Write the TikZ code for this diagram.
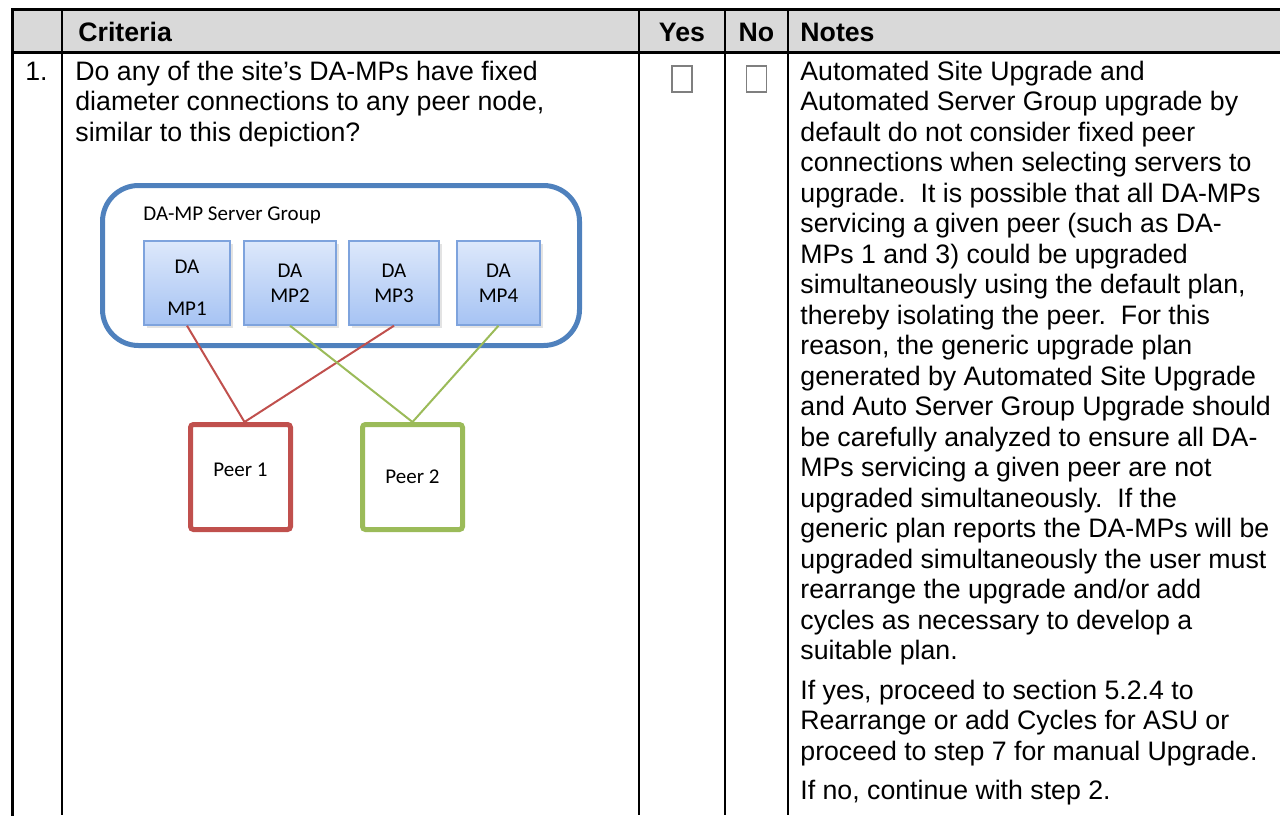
\documentclass[tikz,border=0pt]{standalone}
\usepackage{fontspec}
\setmainfont{Liberation Sans}
\newfontfamily\calfont{Carlito}
\usetikzlibrary{shadows}
\definecolor{hdr}{HTML}{D9D9D9}
\definecolor{grpblue}{HTML}{4F81BD}
\definecolor{peerred}{HTML}{C0504D}
\definecolor{peergreen}{HTML}{9BBB59}
\definecolor{mptop}{HTML}{DDE8FB}
\definecolor{mpbot}{HTML}{A6C3F3}
\definecolor{mpedge}{HTML}{7EA3DD}
\definecolor{boxgray}{HTML}{7F7F7F}
\begin{document}
\begin{tikzpicture}[x=0.5pt,y=-0.5pt,
  txt/.style={anchor=base west, inner sep=0pt, font=\fontsize{13.35}{15.35}\selectfont},
  hdrtxt/.style={anchor=base, inner sep=0pt, font=\fontsize{13.35}{15.35}\selectfont\bfseries},
  outerline/.style={line width=1.5pt, line cap=rect},
  innerline/.style={line width=1.1pt},
  chk/.style={draw=boxgray, line width=0.6pt, minimum width=10pt, minimum height=13pt, inner sep=0pt},
  grpbox/.style={draw=grpblue, line width=2.5pt, rounded corners=18pt, minimum width=238.5pt, minimum height=80pt, inner sep=0pt},
  grplabel/.style={anchor=base west, inner sep=0pt, font=\calfont\fontsize{10.5}{12.5}\selectfont},
  mpbox/.style={draw=mpedge, line width=0.7pt, top color=mptop, bottom color=mpbot, minimum height=42pt, inner sep=0pt, align=center, font=\calfont\fontsize{10.5}{12.5}\selectfont, drop shadow={opacity=0.22, shadow xshift=1.5pt, shadow yshift=-1.5pt}},
  peerbox/.style={draw, line width=2.5pt, rounded corners=1.5pt, fill=white, minimum width=50pt, minimum height=52.5pt, inner sep=0pt, font=\calfont\fontsize{10.5}{12.5}\selectfont},
  link/.style={line width=1pt}
]
\useasboundingbox (0,0) rectangle (1280,815);
% table
\fill[hdr] (12,9) rectangle (1280,52);
\draw[outerline] (12,9) -- (1280,9);
\draw[outerline] (12,52) -- (1280,52);
\draw[outerline] (12,9) -- (12,815);
\draw[innerline] (62,9) -- (62,815);
\draw[innerline] (639,9) -- (639,815);
\draw[innerline] (725,9) -- (725,815);
\draw[innerline] (788,9) -- (788,815);
% header
\node[hdrtxt, anchor=base west] (hcrit) at (78,41) {Criteria};
\node[hdrtxt] (hyes) at (682,41) {Yes};
\node[hdrtxt] (hno) at (756.5,41) {No};
\node[hdrtxt, anchor=base west] (hnotes) at (800,41) {Notes};
% row 1
\node[txt] (num) at (25,80) {1.};
\node[txt] (c1) at (75,80) {Do any of the site’s DA-MPs have fixed};
\node[txt] (c2) at (75,110.5) {diameter connections to any peer node,};
\node[txt] (c3) at (75,141) {similar to this depiction?};
\node[chk] (cbyes) at (682,79) {};
\node[chk] (cbno) at (756.5,79) {};
% notes
\foreach \t [count=\i] in {
  {Automated Site Upgrade and},
  {Automated Server Group upgrade by},
  {default do not consider fixed peer},
  {connections when selecting servers to},
  {upgrade.\ \ It is possible that all DA-MPs},
  {servicing a given peer (such as DA-},
  {MPs 1 and 3) could be upgraded},
  {simultaneously using the default plan,},
  {thereby isolating the peer.\ \ For this},
  {reason, the generic upgrade plan},
  {generated by Automated Site Upgrade},
  {and Auto Server Group Upgrade should},
  {be carefully analyzed to ensure all DA-},
  {MPs servicing a given peer are not},
  {upgraded simultaneously.\ \ If the},
  {generic plan reports the DA-MPs will be},
  {upgraded simultaneously the user must},
  {rearrange the upgrade and/or add},
  {cycles as necessary to develop a},
  {suitable plan.}}
  \node[txt] (note\i) at (800,{80+(\i-1)*30.5}) {\t};
\node[txt] (yes1) at (800,699) {If yes, proceed to section 5.2.4 to};
\node[txt] (yes2) at (800,729.5) {Rearrange or add Cycles for ASU or};
\node[txt] (yes3) at (800,760) {proceed to step 7 for manual Upgrade.};
\node[txt] (no1) at (800,799.5) {If no, continue with step 2.};
% diagram
\node[grpbox] (grp) at (341,265.5) {};
\node[grplabel] (grplab) at (143,220) {DA-MP Server Group};
\node[mpbox, minimum width=43pt] (mp1) at (187,283) {\raisebox{-3pt}[\height][\depth]{\begin{tabular}{@{}c@{}}DA\\[8.5pt]MP1\end{tabular}}};
\node[mpbox, minimum width=46pt] (mp2) at (290,283) {DA\\MP2};
\node[mpbox, minimum width=45pt] (mp3) at (394,283) {DA\\MP3};
\node[mpbox, minimum width=41.5pt] (mp4) at (498.5,283) {DA\\MP4};
\node[peerbox, draw=peerred] (p1) at (240.5,477) {\raisebox{3.5pt}[\height][\depth]{Peer 1}};
\node[peerbox, draw=peergreen] (p2) at (412.5,477) {Peer 2};
\draw[link, peerred] (mp1.south) -- ([xshift=2pt]p1.north);
\draw[link, peerred] (mp3.south) -- ([xshift=2pt]p1.north);
\draw[link, peergreen] (mp2.south) -- (p2.north);
\draw[link, peergreen] (mp4.south) -- (p2.north);
\end{tikzpicture}
\end{document}
